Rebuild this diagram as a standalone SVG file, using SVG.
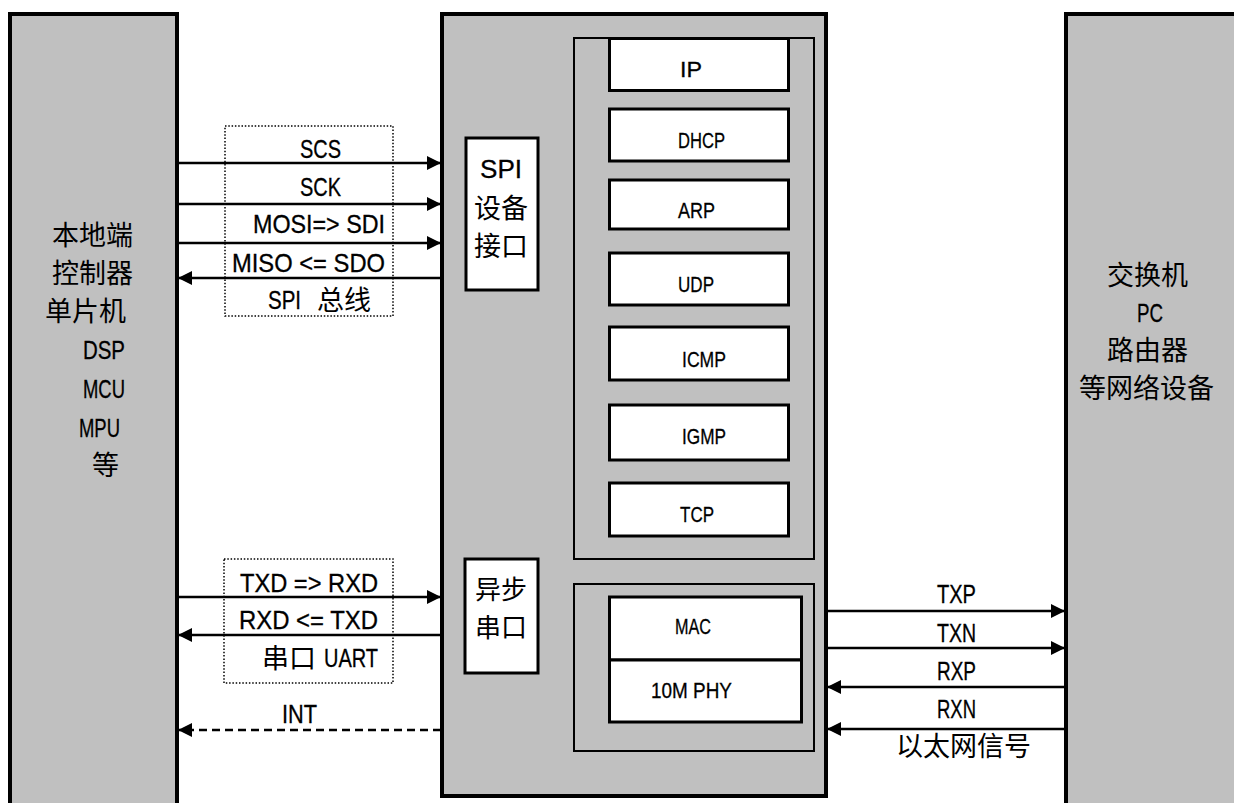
<svg xmlns="http://www.w3.org/2000/svg" width="1234" height="803" viewBox="0 0 1234 803">
<style>
.blk{fill:#c0c0c0;stroke:#000;stroke-width:4}
.inner{fill:#c0c0c0;stroke:#000;stroke-width:2}
.box{fill:#fff;stroke:#000;stroke-width:3}
.dot{fill:none;stroke:#000;stroke-width:1.5;stroke-dasharray:1.5 1.8}
.ln{stroke:#000;stroke-width:2.5;fill:none}
.dash{stroke:#000;stroke-width:2.5;fill:none;stroke-dasharray:8 5}
.lt{font-family:"Liberation Sans",Arial,sans-serif;font-size:25px;fill:#000;stroke:#000;stroke-width:0.3}
.ls{font-family:"Liberation Sans",Arial,sans-serif;font-size:22px;fill:#000;stroke:#000;stroke-width:0.3}
.cj{font-family:"Noto Sans CJK SC","Noto Sans",sans-serif;font-size:27px;fill:#000}
.cs{font-family:"Noto Sans CJK SC","Noto Sans",sans-serif;font-size:26px;fill:#000}
</style>
<defs>
<marker id="ah" viewBox="0 0 14 14" markerWidth="14" markerHeight="14" refX="14" refY="7" orient="auto" markerUnits="userSpaceOnUse">
<path d="M0,0 L14,7 L0,14 z" fill="#000"/>
</marker>
</defs>
<rect width="1234" height="803" fill="#fff"/>

<g id="local-controller">
<rect class="blk" x="10" y="14" width="167" height="800" stroke-width="3.5"/>
<text class="cj" x="52" y="245">本地端</text>
<text class="cj" x="52" y="283">控制器</text>
<text class="cj" x="45" y="321">单片机</text>
<text class="lt" x="83" y="359" textLength="42" lengthAdjust="spacingAndGlyphs">DSP</text>
<text class="lt" x="83" y="398" textLength="42" lengthAdjust="spacingAndGlyphs">MCU</text>
<text class="lt" x="79" y="437" textLength="41" lengthAdjust="spacingAndGlyphs">MPU</text>
<text class="cj" x="92" y="475">等</text>
</g>

<g id="network-device">
<rect class="blk" x="1066" y="14" width="200" height="800"/>
<text class="cj" x="1107" y="285">交换机</text>
<text class="lt" x="1137" y="322" textLength="26" lengthAdjust="spacingAndGlyphs">PC</text>
<text class="cj" x="1107" y="360">路由器</text>
<text class="cj" x="1079" y="398">等网络设备</text>
</g>

<g id="chip">
<rect class="blk" x="442" y="14" width="384" height="782"/>
</g>

<g id="protocol-stack">
<rect class="inner" x="574" y="38" width="240" height="521"/>
</g>

<g id="ip">
<rect class="box" x="609.5" y="38.5" width="179" height="52"/>
<text class="ls" x="680" y="77" textLength="22" lengthAdjust="spacingAndGlyphs">IP</text>
</g>
<g id="dhcp">
<rect class="box" x="609.5" y="109" width="179" height="52"/>
<text class="ls" x="678" y="148" textLength="47" lengthAdjust="spacingAndGlyphs">DHCP</text>
</g>
<g id="arp">
<rect class="box" x="609.5" y="180" width="179" height="49"/>
<text class="ls" x="678" y="218" textLength="37" lengthAdjust="spacingAndGlyphs">ARP</text>
</g>
<g id="udp">
<rect class="box" x="609.5" y="253" width="179" height="52"/>
<text class="ls" x="678" y="292" textLength="36" lengthAdjust="spacingAndGlyphs">UDP</text>
</g>
<g id="icmp">
<rect class="box" x="609.5" y="327" width="179" height="53"/>
<text class="ls" x="682" y="367" textLength="44" lengthAdjust="spacingAndGlyphs">ICMP</text>
</g>
<g id="igmp">
<rect class="box" x="609.5" y="405" width="179" height="55"/>
<text class="ls" x="682" y="444" textLength="44" lengthAdjust="spacingAndGlyphs">IGMP</text>
</g>
<g id="tcp">
<rect class="box" x="609.5" y="483" width="179" height="53"/>
<text class="ls" x="680" y="522" textLength="34" lengthAdjust="spacingAndGlyphs">TCP</text>
</g>

<g id="spi-interface">
<rect class="box" x="466" y="138" width="72" height="152"/>
<text class="lt" x="480" y="178" textLength="42" lengthAdjust="spacingAndGlyphs">SPI</text>
<text class="cj" x="474" y="218">设备</text>
<text class="cj" x="474" y="256">接口</text>
</g>

<g id="uart-interface">
<rect class="box" x="465" y="559" width="73" height="114"/>
<text class="cs" x="475" y="599">异步</text>
<text class="cs" x="475" y="637">串口</text>
</g>

<g id="mac-phy-group">
<rect class="inner" x="574" y="584" width="240" height="167"/>
</g>
<g id="mac">
<rect class="box" x="609.5" y="597" width="192" height="63"/>
<text class="ls" x="675" y="634" textLength="36" lengthAdjust="spacingAndGlyphs">MAC</text>
</g>
<g id="phy">
<rect class="box" x="609.5" y="660" width="192" height="62"/>
<text class="ls" x="651" y="698" textLength="81" lengthAdjust="spacingAndGlyphs">10M  PHY</text>
</g>

<g id="spi-bus">
<rect class="dot" x="225" y="126" width="168" height="190"/>
<text class="lt" x="300" y="158" textLength="41" lengthAdjust="spacingAndGlyphs">SCS</text>
<text class="lt" x="300" y="196" textLength="41" lengthAdjust="spacingAndGlyphs">SCK</text>
<text class="lt" x="253" y="233" textLength="132" lengthAdjust="spacingAndGlyphs">MOSI=&gt; SDI</text>
<text class="lt" x="232" y="272" textLength="153" lengthAdjust="spacingAndGlyphs">MISO &lt;= SDO</text>
<text class="lt" x="268" y="309" textLength="33" lengthAdjust="spacingAndGlyphs">SPI</text>
<text class="cj" x="317" y="310">总线</text>
</g>

<g id="uart-bus">
<rect class="dot" x="224" y="559" width="169" height="124"/>
<text class="lt" x="240" y="592" textLength="138" lengthAdjust="spacingAndGlyphs">TXD =&gt; RXD</text>
<text class="lt" x="239" y="629" textLength="139" lengthAdjust="spacingAndGlyphs">RXD &lt;= TXD</text>
<text class="cj" x="262" y="668">串口</text>
<text class="lt" x="324" y="667" textLength="54" lengthAdjust="spacingAndGlyphs">UART</text>
<text class="lt" x="282" y="723" textLength="35" lengthAdjust="spacingAndGlyphs">INT</text>
</g>

<g id="ethernet-labels">
<text class="lt" x="937" y="603" textLength="39" lengthAdjust="spacingAndGlyphs">TXP</text>
<text class="lt" x="937" y="642" textLength="39" lengthAdjust="spacingAndGlyphs">TXN</text>
<text class="lt" x="937" y="680" textLength="39" lengthAdjust="spacingAndGlyphs">RXP</text>
<text class="lt" x="937" y="718" textLength="39" lengthAdjust="spacingAndGlyphs">RXN</text>
<text class="cj" x="896" y="756">以太网信号</text>
</g>

<g id="connectors">
<line class="ln" x1="178" y1="163" x2="441" y2="163" marker-end="url(#ah)"/>
<line class="ln" x1="178" y1="204" x2="441" y2="204" marker-end="url(#ah)"/>
<line class="ln" x1="178" y1="243" x2="441" y2="243" marker-end="url(#ah)"/>
<line class="ln" x1="441" y1="278" x2="178" y2="278" marker-end="url(#ah)"/>
<line class="ln" x1="178" y1="597" x2="441" y2="597" marker-end="url(#ah)"/>
<line class="ln" x1="441" y1="635" x2="178" y2="635" marker-end="url(#ah)"/>
<line class="dash" x1="441" y1="730" x2="178" y2="730" marker-end="url(#ah)"/>
<line class="ln" x1="827" y1="611" x2="1065" y2="611" marker-end="url(#ah)"/>
<line class="ln" x1="827" y1="648" x2="1065" y2="648" marker-end="url(#ah)"/>
<line class="ln" x1="1065" y1="687" x2="827" y2="687" marker-end="url(#ah)"/>
<line class="ln" x1="1065" y1="729" x2="827" y2="729" marker-end="url(#ah)"/>
</g>
</svg>
